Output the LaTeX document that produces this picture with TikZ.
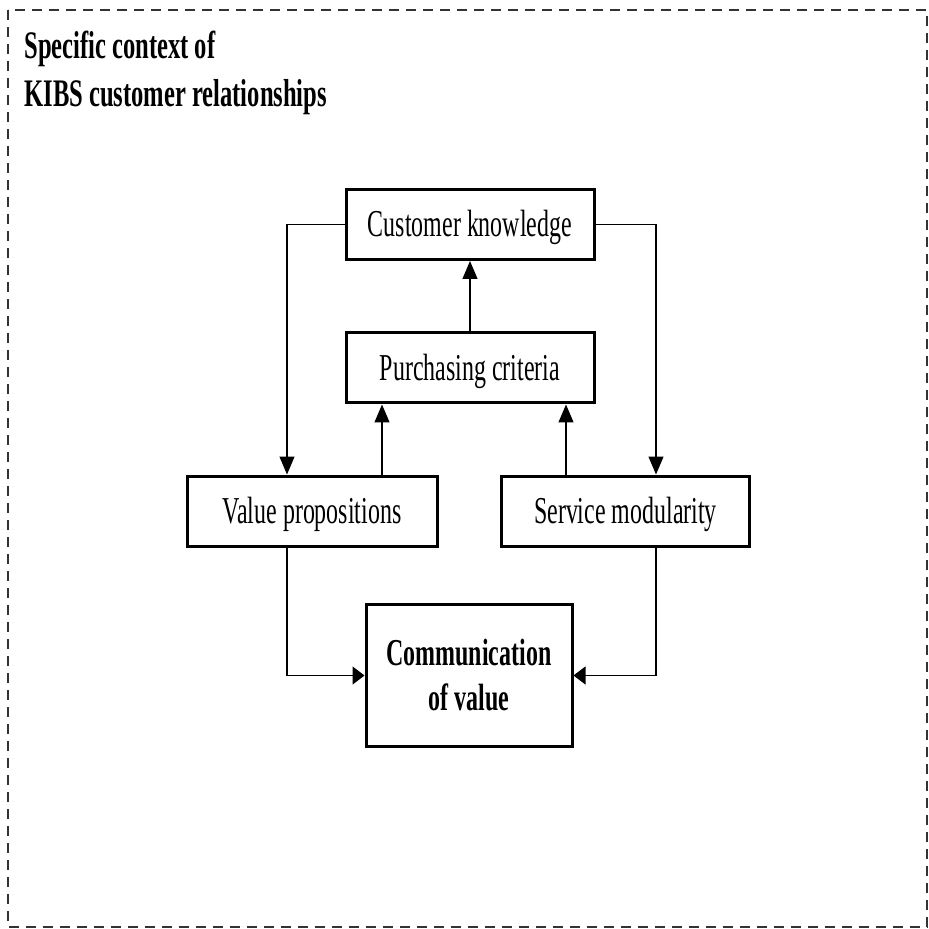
\documentclass[tikz,border=0pt]{standalone}
\usepackage{fontspec}
\setmainfont{Liberation Serif}[FakeStretch=0.63]
\usetikzlibrary{arrows.meta,positioning,calc}

\begin{document}
\begin{tikzpicture}[x=0.5pt,y=-0.5pt]
  \tikzset{
    frame/.style={draw=black!80,line width=0.7pt,dash pattern=on 5pt off 3.5pt},
    factor/.style={rectangle,draw,line width=1.5pt,fill=white,minimum width=124pt,minimum height=35pt,inner sep=0pt,text height=12.5pt,text depth=0pt,font=\fontsize{19}{22}\selectfont},
    outcome/.style={rectangle,draw,line width=1.5pt,fill=white,minimum width=103pt,minimum height=71pt,inner sep=0pt,align=center,font=\fontsize{19}{22.5}\selectfont\bfseries},
    title/.style={anchor=north west,inner sep=0pt,align=left,font=\fontsize{19.5}{24}\selectfont\bfseries},
    link/.style={draw,line width=0.6pt,-{Triangle[length=9pt,width=7.5pt]}},
    hlink/.style={draw,line width=0.6pt,-{Triangle[length=6pt,width=9pt]}}
  }
  \useasboundingbox (0,0) rectangle (929,929);
  \draw[frame] (8,10) rectangle (927,927);
  \node[title] (ctx) at (24,31) {Specific context of\\KIBS customer relationships};
  % the five factors
  \node[factor] (ck) at (470,224.5) {Customer knowledge};
  \node[factor] (pc) at (470,368) {Purchasing criteria};
  \node[factor,minimum width=125pt] (vp) at (312,511) {Value propositions};
  \node[factor] (sm) at (625.5,511) {Service modularity};
  \node[outcome] (cv) at (469,675.5) {Communication\\of value};
  % links
  \draw[link] (ck.west) -| ([xshift=-12.5pt]vp.north);
  \draw[link] (ck.east) -| ([xshift=15.25pt]sm.north);
  \draw[link] (pc.north) -- (ck.south);
  \draw[link] ([xshift=35pt]vp.north) -- ([xshift=35pt]vp.north |- pc.south);
  \draw[link] ([xshift=-29.75pt]sm.north) -- ([xshift=-29.75pt]sm.north |- pc.south);
  \draw[hlink] ([xshift=-12.5pt]vp.south) |- (cv.west);
  \draw[hlink] ([xshift=15.25pt]sm.south) |- (cv.east);
\end{tikzpicture}
\end{document}
